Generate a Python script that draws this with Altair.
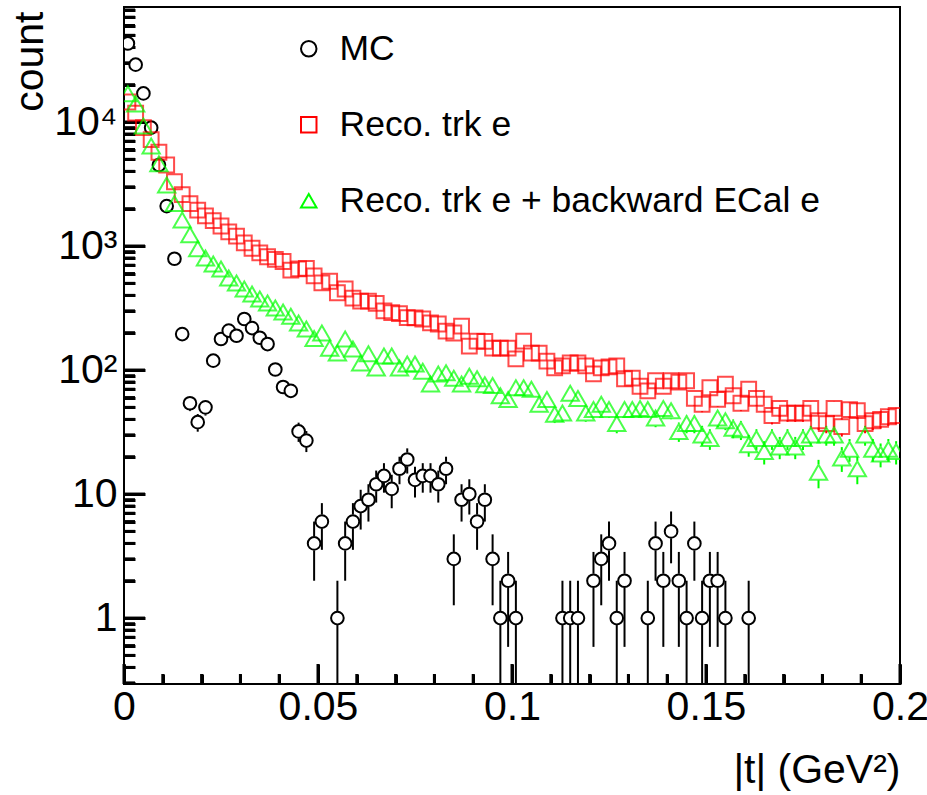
import math
import altair as alt
import pandas as pd

# ---------------- data ----------------
n_bins = 100
t_centers = [round(0.001 + 0.002 * i, 4) for i in range(n_bins)]  # |t| bin centres (GeV^2)

series_names = ["MC", "Reco. trk e", "Reco. trk e + backward ECal e"]

mc_counts = [43000, 29000, 17000, 9000, 4500, 2100, 790, 195, 54, 38,
             50, 119, 178, 208, 189, 258, 218, 182, 162, 101,
             73, 68, 32, 27, 4, 6, 0, 1, 4, 6,
             8, 9, 12, 14, 11, 16, 19, 13, 14, 14,
             12, 16, 3, 9, 10, 6, 9, 3, 1, 2,
             1, 0, 0, 0, 0, 0, 1, 1, 1, 0,
             2, 3, 4, 1, 2, 0, 0, 1, 4, 2,
             5, 2, 1, 4, 1, 2, 2, 1, 0, 0,
             1, 0, 0, 0, 0, 0, 0, 0, 0, 0,
             0, 0, 0, 0, 0, 0, 0, 0, 0, 0]

reco_trk = [14500, 11800, 9000, 7200, 5700, 4500, 3300, 2600, 2200, 1950,
            1750, 1600, 1450, 1300, 1200, 1060, 960, 880, 820, 780,
            750, 640, 655, 660, 575, 505, 520, 420, 450, 380,
            360, 360, 345, 300, 290, 285, 265, 263, 258, 240,
            235, 206, 199, 226, 156, 171, 170, 150, 150, 150,
            123, 171, 137, 137, 118, 104, 108, 114, 114, 108,
            93, 104, 106, 108, 85, 86, 74, 68, 82, 74,
            82, 80, 82, 59, 53, 72, 58, 77, 62, 54,
            70, 59, 53, 43, 49, 45, 45, 45, 49, 39,
            37, 49, 35, 48, 47, 37, 39, 40, 42, 43]

reco_trk_ecal = [16900, 14000, 9300, 6400, 4600, 3100, 2200, 1620, 1230, 950,
                 800, 716, 653, 552, 503, 450, 410, 374, 347, 316,
                 294, 272, 239, 214, 180, 199, 150, 137, 178, 148,
                 114, 135, 104, 130, 130, 104, 112, 112, 98, 77,
                 93, 95, 86, 77, 89, 85, 76, 75, 62, 58,
                 72, 72, 70, 53, 58, 44, 45, 65, 59, 45,
                 48, 53, 48, 37, 48, 48, 49, 48, 41, 49,
                 47, 32, 37, 37, 30, 28, 41, 39, 34, 33,
                 25, 28, 22, 28, 24, 28, 24, 28, 30, 15,
                 30, 30, 19.5, 23, 16, 30, 23, 21, 23, 22]

x_tick_labels = [0, 0.05, 0.1, 0.15, 0.2]
y_tick_labels = [1, 10, 100, 1000, 10000]

# ---------------- layout / style ----------------
W, H = 776, 677
XMIN, XMAX = 0.0, 0.2
YMIN, YMAX = 0.294, 84600
FONT = "Liberation Sans"
FS = 41
FS_LEG = 35.5
px_per_dec = H / (math.log10(YMAX) - math.log10(YMIN))
x_per_px = (XMAX - XMIN) / W

colors = ["#000000", "#ff0000", "#00ff00"]
shapes = ["circle", "square", "triangle-up"]
sizes = {"MC": 160, "Reco. trk e": 220, "Reco. trk e + backward ECal e": 300}
gap_px = {"MC": 7, "Reco. trk e": 7, "Reco. trk e + backward ECal e": 8}

XT_MAJ, XT_MIN = 20, 10   # tick lengths (px), drawn inward
YT_MAJ, YT_MIN = 21, 11
TW = 3                    # tick line width

xscale = alt.Scale(domain=[XMIN, XMAX], nice=False, zero=False)
yscale = alt.Scale(type="log", domain=[YMIN, YMAX], nice=False)
cscale = alt.Scale(domain=series_names, range=colors)
sscale = alt.Scale(domain=series_names, range=shapes)

y_minor_vals = [k * 10 ** d for d in range(-1, 5) for k in range(2, 10) if YMIN <= k * 10 ** d <= YMAX]
x_minor_vals = [round(0.01 * i, 2) for i in range(21) if i % 5 != 0]

# main axes: labels + long inward ticks (negative offset moves the axis line inside);
# zindex 0 keeps the axes beneath the data markers
X_AX = alt.Axis(orient="bottom", values=x_tick_labels, format="~g", domain=False, grid=False,
                ticks=True, tickSize=XT_MAJ, tickWidth=TW, tickColor="black", offset=-XT_MAJ,
                zindex=0,
                labelFont=FONT, labelFontSize=FS, labelColor="black", labelPadding=3,
                labelFlush=False, labelOverlap=False,
                title="|t| (GeV²)", titleFont=FONT, titleFontSize=FS, titleFontWeight="normal",
                titleColor="black", titleAnchor="end", titleAlign="right", titleBaseline="middle",
                titleX=W, titleY=86 + XT_MAJ)
Y_AX = alt.Axis(orient="left", values=y_tick_labels, domain=False, grid=False,
                ticks=True, tickSize=YT_MAJ, tickWidth=TW, tickColor="black", offset=-YT_MAJ,
                zindex=0,
                labelExpr="datum.value == 1 ? '1' : datum.value == 10 ? '10' : datum.value == 100 ? '10²' : datum.value == 1000 ? '10³' : '10⁴'",
                labelFont=FONT, labelFontSize=FS, labelColor="black", labelPadding=7,
                labelOverlap=False, labelFlush=False,
                title="count", titleFont=FONT, titleFontSize=FS, titleFontWeight="normal",
                titleColor="black", titleAngle=-90, titleAnchor="end", titleAlign="right",
                titleBaseline="middle", titleX=-94 - YT_MAJ, titleY=4)
# minor-tick axes (no labels)
X_MIN_AX = alt.Axis(orient="bottom", values=x_minor_vals, domain=False, grid=False, labels=False,
                    ticks=True, tickSize=XT_MIN, tickWidth=TW, tickColor="black", offset=-XT_MIN,
                    zindex=0, title=None)
Y_MIN_AX = alt.Axis(orient="left", values=y_minor_vals, domain=False, grid=False, labels=False,
                    ticks=True, tickSize=YT_MIN, tickWidth=TW, tickColor="black", offset=-YT_MIN,
                    zindex=0, title=None)


def X(f):
    return alt.X(f, type="quantitative", scale=xscale, axis=X_AX)


def Y(f):
    return alt.Y(f, type="quantitative", scale=yscale, axis=Y_AX)


# ---- points and error bars ----
rows, segs = [], []
for name, vals in zip(series_names, [mc_counts, reco_trk, reco_trk_ecal]):
    f = 10 ** (gap_px[name] / px_per_dec)
    for t, n in zip(t_centers, vals):
        if n <= 0:
            continue
        rows.append({"series": name, "t": t, "n": n})
        e = math.sqrt(n)
        lo = max(n - e, YMIN)
        hi = n + e
        if lo < n / f:
            segs.append({"series": name, "t": t, "y1": lo, "y2": n / f})
        if hi > n * f:
            segs.append({"series": name, "t": t, "y1": n * f, "y2": hi})

pts = pd.DataFrame(rows)
seg = pd.DataFrame(segs)

err_layers = [
    alt.Chart(seg[seg.series == name]).mark_rule(strokeWidth=2, clip=True, color=c).encode(
        x=X("t"), y=Y("y1"), y2="y2")
    for name, c in zip(series_names, colors)
]

# inward tick segments as marks as well (coincide with the axis ticks, drawn under the points)
ytick = pd.DataFrame(
    [{"yv": v, "xa": XMIN, "xb": XMIN + YT_MAJ * x_per_px} for v in y_tick_labels] +
    [{"yv": v, "xa": XMIN, "xb": XMIN + YT_MIN * x_per_px} for v in y_minor_vals])
xtick = pd.DataFrame(
    [{"xv": v, "ya": YMIN, "yb": YMIN * 10 ** (XT_MAJ / px_per_dec)} for v in x_tick_labels] +
    [{"xv": v, "ya": YMIN, "yb": YMIN * 10 ** (XT_MIN / px_per_dec)} for v in x_minor_vals])
tick_layers = [
    alt.Chart(ytick).mark_rule(strokeWidth=TW, color="#000000").encode(
        y=Y("yv"), x=X("xa"), x2="xb"),
    alt.Chart(xtick).mark_rule(strokeWidth=TW, color="#000000").encode(
        x=X("xv"), y=Y("ya"), y2="yb"),
]

legend = alt.Legend(orient="none", legendX=167, legendY=24, title=None, padding=0,
                    labelFont=FONT, labelFontSize=FS_LEG, labelColor="black", labelLimit=800,
                    labelOffset=13, rowPadding=39, symbolSize=240, symbolStrokeWidth=2,
                    symbolFillColor="white")


def pts_layer(name, fill=None):
    kw = dict(filled=False, strokeWidth=2, size=sizes[name], clip=True)
    if fill:
        kw.update(fill=fill, fillOpacity=1)
    return alt.Chart(pts[pts.series == name]).mark_point(**kw).encode(
        x=X("t"), y=Y("n"),
        color=alt.Color("series:N", scale=cscale, legend=legend),
        shape=alt.Shape("series:N", scale=sscale, legend=legend))


main = alt.layer(
    *tick_layers,
    *err_layers,
    pts_layer("MC", fill="white"),
    pts_layer("Reco. trk e"),
    pts_layer("Reco. trk e + backward ECal e"),
)

# invisible carrier layer that owns the minor-tick axes
minor = alt.Chart(pts).mark_point(opacity=0, clip=True).encode(
    x=alt.X("t", type="quantitative", scale=xscale, axis=X_MIN_AX),
    y=alt.Y("n", type="quantitative", scale=yscale, axis=Y_MIN_AX))

chart = alt.layer(main, minor).resolve_axis(x="independent", y="independent").properties(
    width=W, height=H,
    autosize=alt.AutoSizeParams(type="none"),
    padding={"left": 124, "top": 7, "right": 27, "bottom": 111},
    background="white",
).configure_view(stroke="black", strokeWidth=2)

chart.save("out.html", embed_options={"renderer": "svg", "actions": False})
